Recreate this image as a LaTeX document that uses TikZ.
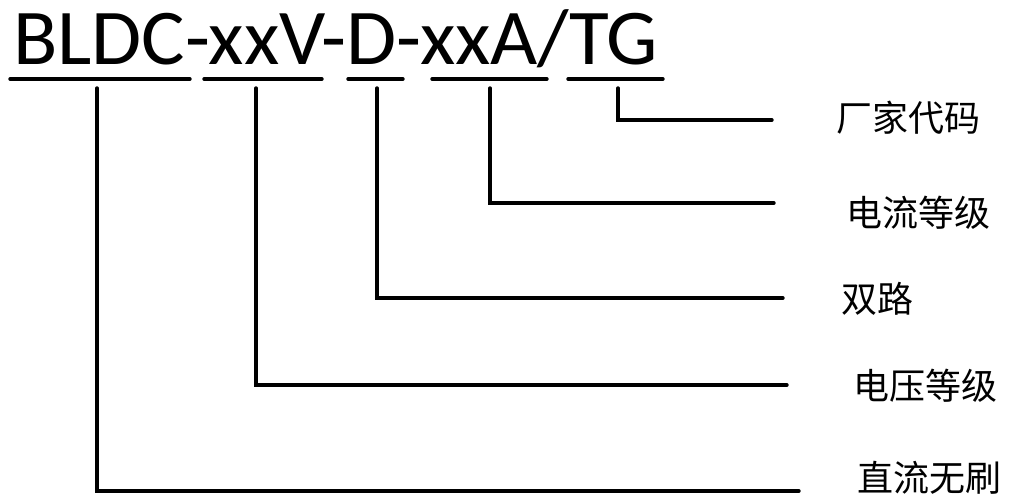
\documentclass[tikz,border=0pt]{standalone}
\usepackage{graphicx}
\usepackage{fontspec}
\setmainfont{Carlito}
\newfontfamily\cjk{Noto Sans CJK SC}
\begin{document}
\begin{tikzpicture}[x=1pt,y=-1pt,
  wire/.style={line width=3.4pt,line cap=round,line join=miter},
  uline/.style={line width=3.4pt,line cap=round},
  lbl/.style={anchor=west,inner sep=0pt,font=\cjk\fontsize{36}{36}\selectfont}]
\useasboundingbox (0,0) rectangle (1010,495);
% title
\node[anchor=base west,inner sep=0pt,font=\fontsize{79}{79}\selectfont] (title) at (13,65) {\scalebox{1.032}[1]{BLDC-xxV-D-xxA/TG}};
% underlines
\coordinate (u1a) at (10,79);  \coordinate (u1b) at (190,79);
\coordinate (u2a) at (204,79); \coordinate (u2b) at (322,79);
\coordinate (u3a) at (348,79); \coordinate (u3b) at (403,79);
\coordinate (u4a) at (432,79); \coordinate (u4b) at (547,79);
\coordinate (u5a) at (568,79); \coordinate (u5b) at (663,79);
\draw[uline] (u1a) -- (u1b);
\draw[uline] (u2a) -- (u2b);
\draw[uline] (u3a) -- (u3b);
\draw[uline] (u4a) -- (u4b);
\draw[uline] (u5a) -- (u5b);
% labels
\node[lbl] (l5) at (836,118) {厂家代码};
\node[lbl] (l4) at (846,213) {电流等级};
\node[lbl] (l3) at (841,299) {双路};
\node[lbl] (l2) at (853,386) {电压等级};
\node[lbl] (l1) at (857,478) {直流无刷};
% connector start points (below the underlines) and free ends
\coordinate (s5) at (618,88); \coordinate (e5) at (772,120);
\coordinate (s4) at (490,88); \coordinate (e4) at (774,203);
\coordinate (s3) at (377,88); \coordinate (e3) at (783,298);
\coordinate (s2) at (256,88); \coordinate (e2) at (787,385);
\coordinate (s1) at (97,88);  \coordinate (e1) at (799,491);
\draw[wire] (s5) |- (e5);
\draw[wire] (s4) |- (e4);
\draw[wire] (s3) |- (e3);
\draw[wire] (s2) |- (e2);
\draw[wire] (s1) |- (e1);
\end{tikzpicture}
\end{document}
